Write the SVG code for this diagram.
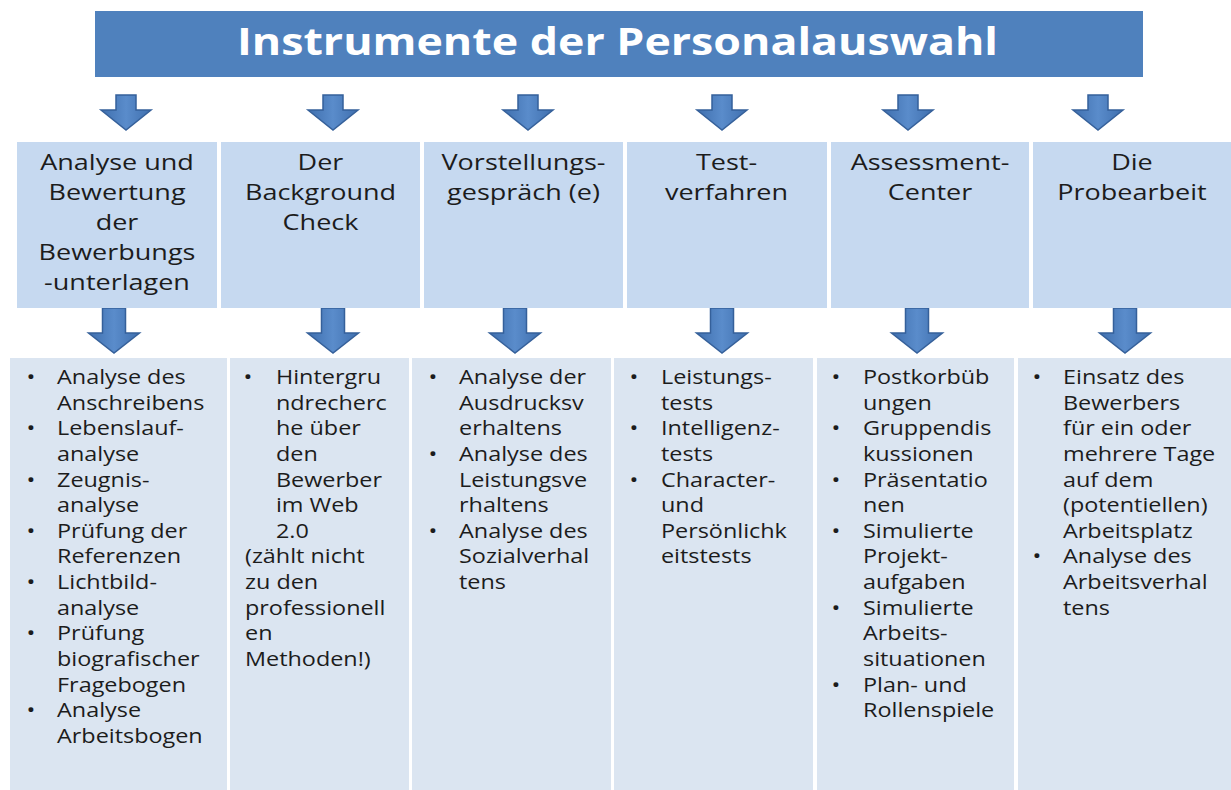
<svg xmlns="http://www.w3.org/2000/svg" width="1231" height="790" viewBox="0 0 1231 790">
  <defs>
    <linearGradient id="arrowFill" x1="0" y1="0" x2="1" y2="0">
      <stop offset="0" stop-color="#3f6fae"/>
      <stop offset="0.5" stop-color="#5a8ccb"/>
      <stop offset="1" stop-color="#3f6fae"/>
    </linearGradient>
    <path id="arrowTop" d="M-10,95 H10 V110 H25 L0,130 L-25,110 H-10 Z"/>
    <path id="arrowLow" d="M-11.5,308 H11.5 V333 H25.5 L0,353 L-25.5,333 H-11.5 Z"/>
  </defs>
  <style>
    .title { fill: #4f81bd; }
    .head { fill: #c6d9f0; }
    .body { fill: #dbe5f1; }
    .arrow { fill: url(#arrowFill); stroke: #35609a; stroke-width: 1.5; stroke-linejoin: miter; }
    .ttl { font-family: "Open Sans", "DejaVu Sans", sans-serif; font-weight: bold; font-size: 37.5px; fill: #ffffff; }
    .hd { font-family: "Open Sans", "DejaVu Sans", sans-serif; font-size: 22.5px; fill: #1c1c1c; text-anchor: middle; }
    .tx { font-family: "Open Sans", "DejaVu Sans", sans-serif; font-size: 19.5px; fill: #1c1c1c; }
    .bl { text-anchor: middle; }
  </style>

  <rect width="1231" height="790" fill="#ffffff"/>

  <!-- title bar -->
  <g id="title">
    <rect class="title" x="95" y="11" width="1048" height="66"/>
    <text class="ttl" x="237" y="55" textLength="761" lengthAdjust="spacingAndGlyphs">Instrumente der Personalauswahl</text>
  </g>

  <!-- connectors: block arrows -->
  <g id="connectors">
    <use href="#arrowTop" class="arrow" transform="translate(126,0)"/>
    <use href="#arrowTop" class="arrow" transform="translate(333,0)"/>
    <use href="#arrowTop" class="arrow" transform="translate(528,0)"/>
    <use href="#arrowTop" class="arrow" transform="translate(722,0)"/>
    <use href="#arrowTop" class="arrow" transform="translate(908,0)"/>
    <use href="#arrowTop" class="arrow" transform="translate(1098,0)"/>
    <use href="#arrowLow" class="arrow" transform="translate(114,0)"/>
    <use href="#arrowLow" class="arrow" transform="translate(333,0)"/>
    <use href="#arrowLow" class="arrow" transform="translate(515,0)"/>
    <use href="#arrowLow" class="arrow" transform="translate(722,0)"/>
    <use href="#arrowLow" class="arrow" transform="translate(917,0)"/>
    <use href="#arrowLow" class="arrow" transform="translate(1125,0)"/>
  </g>

  <!-- header boxes -->
  <g id="head-1">
    <rect class="head" x="17" y="142" width="200" height="166"/>
    <g transform="translate(117,0) scale(1.2,1)">
      <text class="hd" x="0" y="170">Analyse und<tspan x="0" dy="30">Bewertung</tspan><tspan x="0" dy="30">der</tspan><tspan x="0" dy="30">Bewerbungs</tspan><tspan x="0" dy="30">-unterlagen</tspan></text>
    </g>
  </g>
  <g id="head-2">
    <rect class="head" x="221" y="142" width="199" height="166"/>
    <g transform="translate(320.5,0) scale(1.2,1)">
      <text class="hd" x="0" y="170">Der<tspan x="0" dy="30">Background</tspan><tspan x="0" dy="30">Check</tspan></text>
    </g>
  </g>
  <g id="head-3">
    <rect class="head" x="424" y="142" width="199" height="166"/>
    <g transform="translate(523.5,0) scale(1.2,1)">
      <text class="hd" x="0" y="170">Vorstellungs-<tspan x="0" dy="30">gespräch (e)</tspan></text>
    </g>
  </g>
  <g id="head-4">
    <rect class="head" x="627" y="142" width="200" height="166"/>
    <g transform="translate(726.5,0) scale(1.2,1)">
      <text class="hd" x="0" y="170">Test-<tspan x="0" dy="30">verfahren</tspan></text>
    </g>
  </g>
  <g id="head-5">
    <rect class="head" x="831" y="142" width="198" height="166"/>
    <g transform="translate(930,0) scale(1.2,1)">
      <text class="hd" x="0" y="170">Assessment-<tspan x="0" dy="30">Center</tspan></text>
    </g>
  </g>
  <g id="head-6">
    <rect class="head" x="1033" y="142" width="198" height="166"/>
    <g transform="translate(1132,0) scale(1.2,1)">
      <text class="hd" x="0" y="170">Die<tspan x="0" dy="30">Probearbeit</tspan></text>
    </g>
  </g>

  <!-- detail boxes -->
  <g id="list-1">
    <rect class="body" x="10" y="358" width="217" height="432"/>
    <g transform="translate(31,0) scale(1.2,1)">
      <text class="tx bl" x="0" y="384">•<tspan x="0" dy="51.3">•</tspan><tspan x="0" dy="51.3">•</tspan><tspan x="0" dy="51.3">•</tspan><tspan x="0" dy="51.3">•</tspan><tspan x="0" dy="51.3">•</tspan><tspan x="0" dy="76.9">•</tspan></text>
      <text class="tx" x="21.7" y="384">Analyse des<tspan x="21.7" dy="25.64">Anschreibens</tspan><tspan x="21.7" dy="25.64">Lebenslauf-</tspan><tspan x="21.7" dy="25.64">analyse</tspan><tspan x="21.7" dy="25.64">Zeugnis-</tspan><tspan x="21.7" dy="25.64">analyse</tspan><tspan x="21.7" dy="25.64">Prüfung der</tspan><tspan x="21.7" dy="25.64">Referenzen</tspan><tspan x="21.7" dy="25.64">Lichtbild-</tspan><tspan x="21.7" dy="25.64">analyse</tspan><tspan x="21.7" dy="25.64">Prüfung</tspan><tspan x="21.7" dy="25.64">biografischer</tspan><tspan x="21.7" dy="25.64">Fragebogen</tspan><tspan x="21.7" dy="25.64">Analyse</tspan><tspan x="21.7" dy="25.64">Arbeitsbogen</tspan></text>
    </g>
  </g>
  <g id="list-2">
    <rect class="body" x="230" y="358" width="179" height="432"/>
    <g transform="translate(248,0) scale(1.2,1)">
      <text class="tx bl" x="0" y="384">•</text>
      <text class="tx" x="23.3" y="384">Hintergru<tspan x="23.3" dy="25.64">ndrecherc</tspan><tspan x="23.3" dy="25.64">he über</tspan><tspan x="23.3" dy="25.64">den</tspan><tspan x="23.3" dy="25.64">Bewerber</tspan><tspan x="23.3" dy="25.64">im Web</tspan><tspan x="23.3" dy="25.64">2.0</tspan><tspan x="-2.5" dy="25.64">(zählt nicht</tspan><tspan x="-2.5" dy="25.64">zu den</tspan><tspan x="-2.5" dy="25.64">professionell</tspan><tspan x="-2.5" dy="25.64">en</tspan><tspan x="-2.5" dy="25.64">Methoden!)</tspan></text>
    </g>
  </g>
  <g id="list-3">
    <rect class="body" x="412" y="358" width="199" height="432"/>
    <g transform="translate(433,0) scale(1.2,1)">
      <text class="tx bl" x="0" y="384">•<tspan x="0" dy="76.9">•</tspan><tspan x="0" dy="76.9">•</tspan></text>
      <text class="tx" x="21.7" y="384">Analyse der<tspan x="21.7" dy="25.64">Ausdrucksv</tspan><tspan x="21.7" dy="25.64">erhaltens</tspan><tspan x="21.7" dy="25.64">Analyse des</tspan><tspan x="21.7" dy="25.64">Leistungsve</tspan><tspan x="21.7" dy="25.64">rhaltens</tspan><tspan x="21.7" dy="25.64">Analyse des</tspan><tspan x="21.7" dy="25.64">Sozialverhal</tspan><tspan x="21.7" dy="25.64">tens</tspan></text>
    </g>
  </g>
  <g id="list-4">
    <rect class="body" x="614" y="358" width="199" height="432"/>
    <g transform="translate(634,0) scale(1.2,1)">
      <text class="tx bl" x="0" y="384">•<tspan x="0" dy="51.3">•</tspan><tspan x="0" dy="51.3">•</tspan></text>
      <text class="tx" x="22.5" y="384">Leistungs-<tspan x="22.5" dy="25.64">tests</tspan><tspan x="22.5" dy="25.64">Intelligenz-</tspan><tspan x="22.5" dy="25.64">tests</tspan><tspan x="22.5" dy="25.64">Character-</tspan><tspan x="22.5" dy="25.64">und</tspan><tspan x="22.5" dy="25.64">Persönlichk</tspan><tspan x="22.5" dy="25.64">eitstests</tspan></text>
    </g>
  </g>
  <g id="list-5">
    <rect class="body" x="817" y="358" width="197" height="432"/>
    <g transform="translate(836,0) scale(1.2,1)">
      <text class="tx bl" x="0" y="384">•<tspan x="0" dy="51.3">•</tspan><tspan x="0" dy="51.3">•</tspan><tspan x="0" dy="51.3">•</tspan><tspan x="0" dy="76.9">•</tspan><tspan x="0" dy="76.9">•</tspan></text>
      <text class="tx" x="22.5" y="384">Postkorbüb<tspan x="22.5" dy="25.64">ungen</tspan><tspan x="22.5" dy="25.64">Gruppendis</tspan><tspan x="22.5" dy="25.64">kussionen</tspan><tspan x="22.5" dy="25.64">Präsentatio</tspan><tspan x="22.5" dy="25.64">nen</tspan><tspan x="22.5" dy="25.64">Simulierte</tspan><tspan x="22.5" dy="25.64">Projekt-</tspan><tspan x="22.5" dy="25.64">aufgaben</tspan><tspan x="22.5" dy="25.64">Simulierte</tspan><tspan x="22.5" dy="25.64">Arbeits-</tspan><tspan x="22.5" dy="25.64">situationen</tspan><tspan x="22.5" dy="25.64">Plan- und</tspan><tspan x="22.5" dy="25.64">Rollenspiele</tspan></text>
    </g>
  </g>
  <g id="list-6">
    <rect class="body" x="1018" y="358" width="213" height="432"/>
    <g transform="translate(1037,0) scale(1.2,1)">
      <text class="tx bl" x="0" y="384">•<tspan x="0" dy="179.5">•</tspan></text>
      <text class="tx" x="21.7" y="384">Einsatz des<tspan x="21.7" dy="25.64">Bewerbers</tspan><tspan x="21.7" dy="25.64">für ein oder</tspan><tspan x="21.7" dy="25.64">mehrere Tage</tspan><tspan x="21.7" dy="25.64">auf dem</tspan><tspan x="21.7" dy="25.64">(potentiellen)</tspan><tspan x="21.7" dy="25.64">Arbeitsplatz</tspan><tspan x="21.7" dy="25.64">Analyse des</tspan><tspan x="21.7" dy="25.64">Arbeitsverhal</tspan><tspan x="21.7" dy="25.64">tens</tspan></text>
    </g>
  </g>
</svg>
